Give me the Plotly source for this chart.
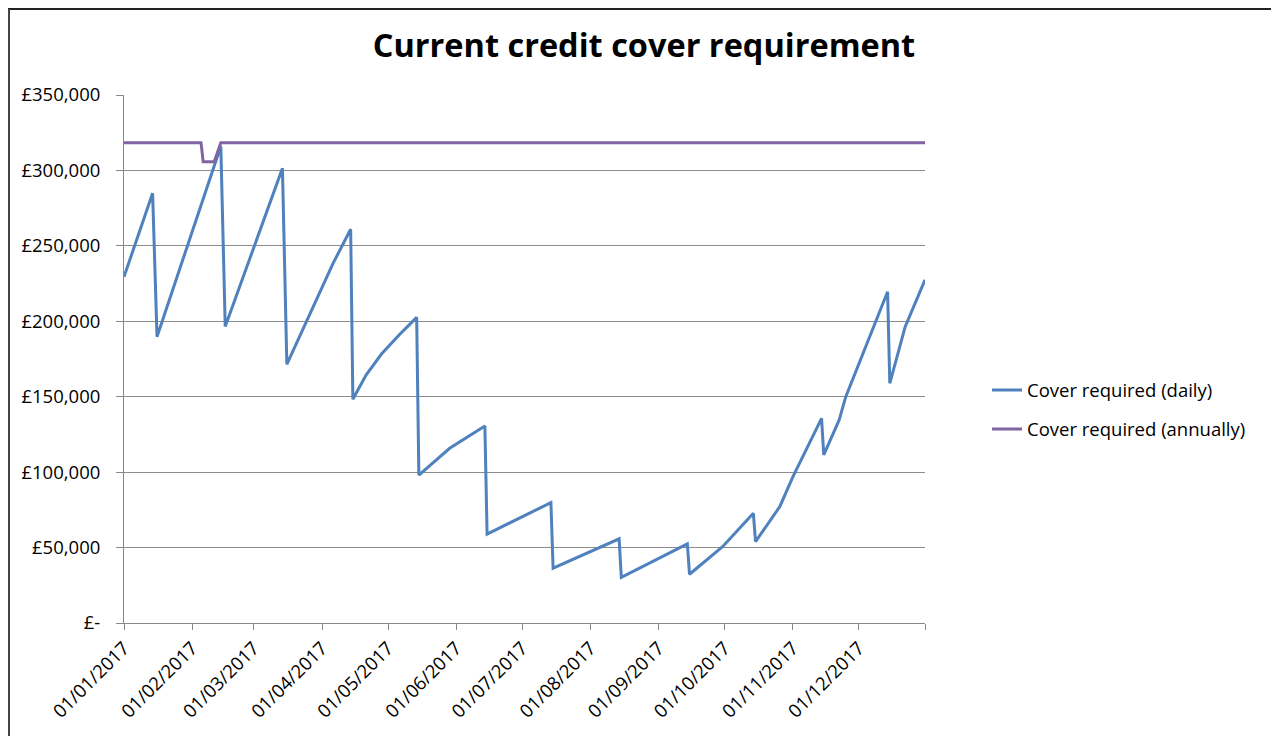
import plotly.graph_objects as go

# Daily cover requirement (vertices)
daily_dates = [
    "2017-01-01", "2017-01-14", "2017-01-16", "2017-02-14", "2017-02-16",
    "2017-03-14", "2017-03-16", "2017-04-06", "2017-04-14", "2017-04-15",
    "2017-04-21", "2017-04-28", "2017-05-06", "2017-05-14", "2017-05-15",
    "2017-05-29", "2017-06-14", "2017-06-15", "2017-07-14", "2017-07-15",
    "2017-08-14", "2017-08-15", "2017-09-14", "2017-09-15", "2017-09-30",
    "2017-10-14", "2017-10-15", "2017-10-26", "2017-11-01", "2017-11-07",
    "2017-11-14", "2017-11-15", "2017-11-22", "2017-11-25", "2017-12-01",
    "2017-12-07", "2017-12-14", "2017-12-15", "2017-12-22", "2017-12-31",
]
daily_values = [
    229500, 284800, 189800, 316000, 196500,
    301400, 171500, 238400, 261000, 148300,
    164400, 178300, 190900, 202600, 98100,
    115800, 130600, 59000, 79800, 36300,
    55800, 30300, 52400, 32300, 50600,
    72700, 53900, 77100, 97000, 114600,
    135700, 111400, 134600, 150000, 172200,
    194200, 219600, 158900, 196400, 227400,
]

# Annual cover requirement
annual_dates = ["2017-01-01", "2017-02-05", "2017-02-06", "2017-02-11", "2017-02-14", "2017-12-31"]
annual_values = [318400, 318400, 305700, 305700, 318400, 318400]

# Axis ticks
x_tick_dates = ["2017-%02d-01" % m for m in range(1, 13)] + ["2017-12-31"]
x_tick_labels = ["01/%02d/2017" % m for m in range(1, 13)] + [""]
y_tick_vals = [0, 50000, 100000, 150000, 200000, 250000, 300000, 350000]
y_tick_labels = ["£-", "£50,000", "£100,000", "£150,000", "£200,000", "£250,000", "£300,000", "£350,000"]

FONT = "Open Sans"
OFF = 8  # page body margin
W, H = 1263, 728
PL, PR, PT, PB = 124 - OFF, 925 - OFF, 95 - OFF, 623 - OFF  # plot edges in figure px
PW, PH = PR - PL, PB - PT


def px(xs):
    return (xs - OFF - PL) / PW


def py(ys):
    return (PB - (ys - OFF)) / PH


fig = go.Figure()
fig.add_trace(go.Scatter(
    x=daily_dates, y=daily_values, mode="lines",
    name="Cover required (daily)", legendgroup="a",
    line=dict(color="#4F81BD", width=3),
))
fig.add_trace(go.Scatter(
    x=annual_dates, y=annual_values, mode="lines",
    name="Cover required (annually)", legendgroup="b",
    line=dict(color="#8064A2", width=3),
))

fig.update_layout(
    width=W, height=H,
    margin=dict(l=PL, r=W - PR, t=PT, b=H - PB),
    paper_bgcolor="white", plot_bgcolor="white",
    font=dict(family=FONT, color="#000000", size=18),
    title=dict(
        text="<b>Current credit cover requirement</b>",
        x=(644 - OFF) / W, xanchor="center", xref="container",
        y=1 - (46 - OFF) / H, yanchor="middle", yref="container",
        font=dict(family=FONT, size=32.5, color="#000000"),
    ),
    showlegend=True,
    legend=dict(
        x=px(987), xanchor="left",
        y=py(410), yanchor="middle",
        font=dict(family=FONT, size=18.5, color="#000000"),
        tracegroupgap=12, traceorder="grouped",
        bgcolor="rgba(0,0,0,0)",
    ),
    xaxis=dict(
        type="date",
        range=["2017-01-01", "2017-12-31"],
        tickmode="array", tickvals=x_tick_dates, ticktext=x_tick_labels,
        tickangle=-45, ticks="outside", ticklen=6, tickcolor="#888888",
        showline=True, linecolor="#888888", linewidth=1,
        showgrid=False, zeroline=False,
        tickfont=dict(family=FONT, size=18.5, color="#000000"),
    ),
    yaxis=dict(
        range=[0, 350000],
        tickmode="array", tickvals=y_tick_vals, ticktext=y_tick_labels,
        ticks="outside", ticklen=7, tickcolor="#888888",
        showline=True, linecolor="#888888", linewidth=1,
        showgrid=True, gridcolor="#8c8c8c", gridwidth=1,
        zeroline=False,
        tickfont=dict(family=FONT, size=18.5, color="#000000"),
        ticklabelstandoff=12,
    ),
    shapes=[
        dict(type="line", xref="paper", yref="paper",
             x0=px(8), x1=px(1279),
             y0=py(9), y1=py(9),
             line=dict(color="#222222", width=2)),
        dict(type="line", xref="paper", yref="paper",
             x0=px(9), x1=px(9),
             y0=py(9), y1=py(744),
             line=dict(color="#444444", width=2)),
    ],
)

fig.write_html("out.html")
